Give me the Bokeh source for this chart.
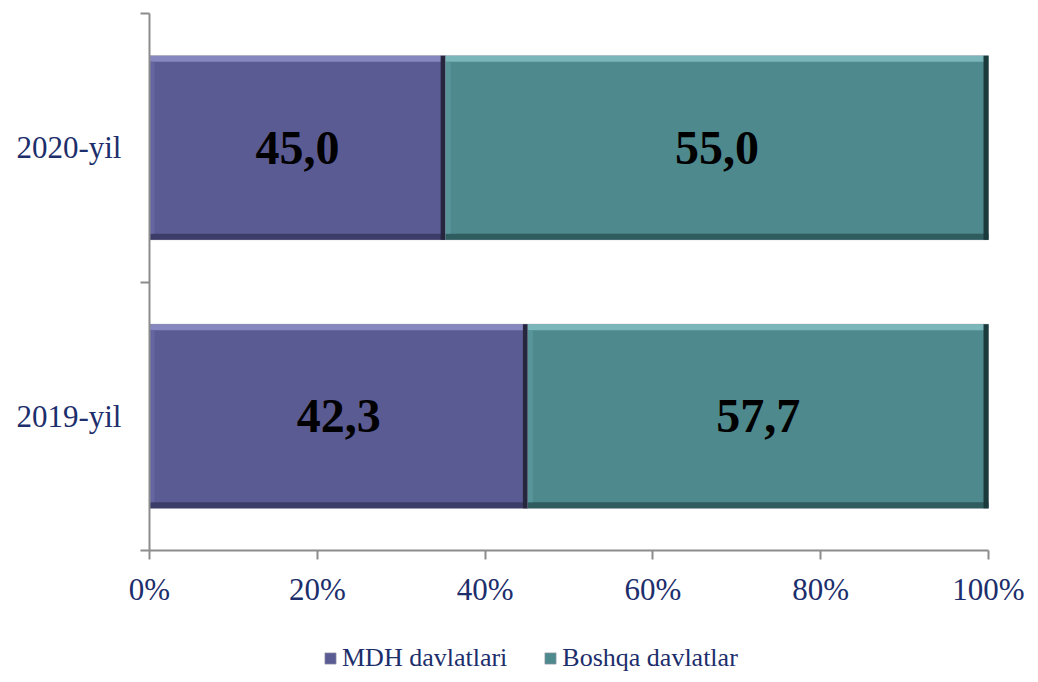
from bokeh.plotting import figure
from bokeh.models import Range1d, FixedTicker, LinearAxis, Legend, LegendItem, PrintfTickFormatter
from bokeh.core.properties import value
from bokeh.embed import file_html
from bokeh.resources import INLINE

# ---- data ----
categories = ["2019-yil", "2020-yil"]
series_names = ["MDH davlatlari", "Boshqa davlatlar"]
mdh_bar = [45.1, 35.3]          # drawn bar shares (as in the picture)
boshqa_bar = [54.9, 64.7]
mdh_labels = ["42,3", "45,0"]    # printed data labels
boshqa_labels = ["57,7", "55,0"]
x_ticks = [0, 20, 40, 60, 80, 100]

# ---- style ----
base = ["#5B5B94", "#4E898D"]
light = ["#8787BF", "#7BB7BA"]
lefte = ["#6565A2", "#58959A"]
dark = ["#3C3C68", "#2E5C5F"]
darker = ["#26263F", "#1A3A3C"]
TXT = "#1C2E6B"
AX = "#8C8C8C"
FONT = "Liberation Serif"

# ---- layout (pixel positions of the plot box) ----
W, H = 1030, 674
X0_PX, X1_PX = 149, 988      # 0% and 100%
Y_TOP_PX, Y_AX_PX = 13, 550  # top of the category axis and its bottom
n = len(categories)
px_per_pct = (X1_PX - X0_PX) / 100
px_per_unit = (Y_AX_PX - Y_TOP_PX) / n
x_start = -X0_PX / px_per_pct
x_end = 100 + (W - X1_PX) / px_per_pct
y_start = -(H - Y_AX_PX) / px_per_unit
y_end = n + Y_TOP_PX / px_per_unit
BAR_H = 0.685

p = figure(width=W, height=H, x_range=Range1d(x_start, x_end), y_range=Range1d(y_start, y_end),
           output_backend="svg", toolbar_location=None,
           min_border_left=0, min_border_right=0, min_border_top=0, min_border_bottom=0)
p.xgrid.visible = False
p.ygrid.visible = False
p.outline_line_color = None
p.background_fill_color = "white"
p.border_fill_color = "white"

ypos = [i + 0.5 for i in range(n)]
t_y = 6 / px_per_unit      # bevel thickness in data units
t_x = 5 / px_per_pct

series_vals = [mdh_bar, boshqa_bar]
series_labels = [mdh_labels, boshqa_labels]
renderers = []
cum = [0.0] * n
for s, vals in enumerate(series_vals):
    left = list(cum)
    right = [l + v for l, v in zip(left, vals)]
    r = p.hbar(y=ypos, left=left, right=right, height=BAR_H, fill_color=base[s],
               line_color="#9A9AA8", line_width=0.6)
    renderers.append(r)
    # bevel edges
    p.hbar(y=[y + BAR_H / 2 - t_y / 2 for y in ypos], left=left, right=right, height=t_y,
           fill_color=light[s], line_color=None)
    p.hbar(y=[y - BAR_H / 2 + t_y / 2 for y in ypos], left=left, right=right, height=t_y,
           fill_color=dark[s], line_color=None)
    p.hbar(y=ypos, left=left, right=[l + t_x for l in left], height=BAR_H - 2 * t_y,
           fill_color=lefte[s], line_color=None)
    p.hbar(y=ypos, left=[r_ - t_x for r_ in right], right=right, height=BAR_H,
           fill_color=darker[s], line_color=None)
    mids = [(l + r_) / 2 for l, r_ in zip(left, right)]
    p.text(x=mids, y=ypos, text=series_labels[s], text_font=value(FONT), text_font_style="bold",
           text_font_size="48px", text_align="center", text_baseline="middle", text_color="black")
    cum = right

# x axis, pinned at y = 0
xa = p.xaxis[0]
xa.fixed_location = 0
xa.bounds = (0, 100)
xa.ticker = FixedTicker(ticks=x_ticks)
xa.formatter = PrintfTickFormatter(format="%d%%")
xa.axis_line_color = AX
xa.axis_line_width = 2
xa.major_tick_line_color = AX
xa.major_tick_line_width = 2
xa.major_tick_out = 9
xa.major_tick_in = 0
xa.minor_tick_out = 0
xa.minor_tick_in = 0
xa.major_label_standoff = 12
xa.major_label_text_font = FONT
xa.major_label_text_font_size = "31px"
xa.major_label_text_color = TXT

# y axis: boundary ticks, pinned at x = 0
ya = p.yaxis[0]
ya.fixed_location = 0
ya.bounds = (0, n)
ya.ticker = FixedTicker(ticks=list(range(n + 1)))
ya.major_label_overrides = {i: "" for i in range(n + 1)}
ya.axis_line_color = AX
ya.axis_line_width = 2
ya.major_tick_line_color = AX
ya.major_tick_line_width = 2
ya.major_tick_out = 9
ya.major_tick_in = 0
ya.minor_tick_out = 0
ya.minor_tick_in = 0
ya.major_label_standoff = 0

# y axis: category labels, pinned at x = 0
yl = LinearAxis(ticker=FixedTicker(ticks=ypos), bounds=(0, n), fixed_location=0,
                major_label_overrides={y: c for y, c in zip(ypos, categories)})
yl.axis_line_color = None
yl.major_tick_line_color = None
yl.major_tick_out = 0
yl.major_tick_in = 0
yl.minor_tick_out = 0
yl.minor_tick_in = 0
yl.major_label_standoff = 28
yl.major_label_text_font = FONT
yl.major_label_text_font_size = "31px"
yl.major_label_text_color = TXT
p.add_layout(yl, "left")

legend = Legend(items=[LegendItem(label=nm, renderers=[r]) for nm, r in zip(series_names, renderers)],
                orientation="horizontal", location=(X0_PX + 174, 1))
legend.background_fill_alpha = 0
legend.border_line_color = None
legend.padding = 0
legend.margin = 0
legend.spacing = 36
legend.glyph_width = 14
legend.glyph_height = 14
legend.label_standoff = 5
legend.label_text_font = "Times New Roman"
legend.label_text_font_style = "normal"
legend.label_text_font_size = "26px"
legend.label_text_color = TXT
p.add_layout(legend)

open("out.html", "w").write(file_html(p, INLINE))
